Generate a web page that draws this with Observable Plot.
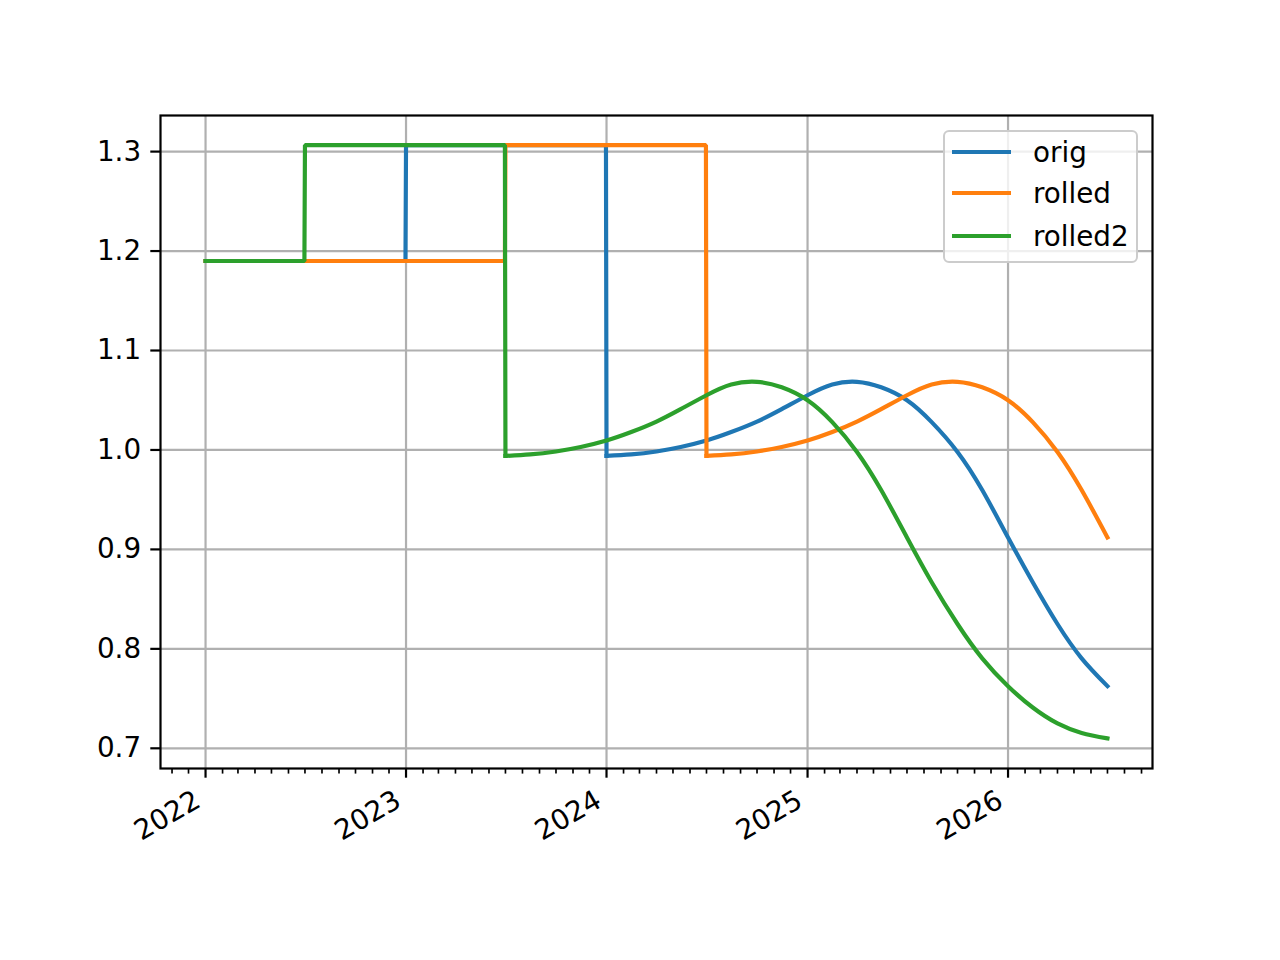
<!DOCTYPE html>
<html>
<head>
<meta charset="utf-8">
<script src="https://cdn.jsdelivr.net/npm/d3@7"></script>
<script src="https://cdn.jsdelivr.net/npm/@observablehq/plot@0.6"></script>
<style>
  body { margin: 0; background: white; }
  #wrap { position: relative; width: 1280px; height: 960px; font-family: "DejaVu Sans", sans-serif; }
  .leg-box { position: absolute; box-sizing: border-box; left: 943px; top: 130px; width: 195px; height: 133px;
    border: 2.2px solid #cccccc; border-radius: 6px; background: rgba(255,255,255,0.8); }
  .leg-line { position: absolute; left: 952px; width: 59px; height: 4.2px; }
  .leg-text { position: absolute; left: 1033px; font-size: 27.8px; line-height: 42px; height: 42px; color: black; white-space: nowrap; }
</style>
</head>
<body>
<div id="wrap"></div>
<script>
// ---- data ----
const seriesNames = ["orig", "rolled", "rolled2"];
const seriesColors = ["#1f77b4", "#ff7f0e", "#2ca02c"];

const origDates = ["2022-01-01","2022-12-31","2023-01-01","2023-12-31","2024-01-01","2024-02-15","2024-04-01","2024-05-15","2024-07-01","2024-08-15","2024-10-01","2024-11-15","2025-01-01","2025-02-15","2025-04-01","2025-05-15","2025-07-01","2025-08-15","2025-10-01","2025-11-15","2026-01-01","2026-02-15","2026-04-01","2026-05-15","2026-07-01"];
const origValues = [1.19,1.19,1.3065,1.3065,0.994,0.9955,0.9985,1.003,1.0095,1.018,1.0285,1.041,1.055,1.0658,1.0685,1.063,1.050,1.028,0.998,0.9597,0.912,0.867,0.825,0.7905,0.7625];

const rolledDates = ["2022-01-01","2023-06-30","2023-07-01","2024-06-30","2024-07-01","2024-08-15","2024-10-01","2024-11-15","2025-01-01","2025-02-15","2025-04-01","2025-05-15","2025-07-01","2025-08-15","2025-10-01","2025-11-15","2026-01-01","2026-02-15","2026-04-01","2026-05-15","2026-07-01"];
const rolledValues = [1.19,1.19,1.3065,1.3065,0.994,0.9955,0.9985,1.003,1.0095,1.018,1.0285,1.041,1.055,1.0658,1.0685,1.063,1.050,1.028,0.998,0.9597,0.912];

const rolled2Dates = ["2022-01-01","2022-06-30","2022-07-01","2023-06-30","2023-07-01","2023-08-15","2023-10-01","2023-11-15","2024-01-01","2024-02-15","2024-04-01","2024-05-15","2024-07-01","2024-08-15","2024-10-01","2024-11-15","2025-01-01","2025-02-15","2025-04-01","2025-05-15","2025-07-01","2025-08-15","2025-10-01","2025-11-15","2026-01-01","2026-02-15","2026-04-01","2026-05-15","2026-07-01"];
const rolled2Values = [1.19,1.19,1.3065,1.3065,0.994,0.9955,0.9985,1.003,1.0095,1.018,1.0285,1.041,1.055,1.0658,1.0685,1.063,1.050,1.028,0.998,0.9597,0.912,0.867,0.825,0.7905,0.7625,0.741,0.725,0.7155,0.7100];

const yearTickLabels = ["2022","2023","2024","2025","2026"];
const yTickValues = [0.7,0.8,0.9,1.0,1.1,1.2,1.3];
const xDomain = ["2021-10-11","2026-09-21"];
const yDomain = [0.6797, 1.3363];

// ---- build ----
const STEP_POINTS = 5; // first points of each series form the step part (up to the curve start)
const toRows = (dates, values) => dates.map((d, i) => ({date: new Date(d + "T00:00:00Z"), value: values[i], i}));
const series = [toRows(origDates, origValues), toRows(rolledDates, rolledValues), toRows(rolled2Dates, rolled2Values)];
const yearTicks = yearTickLabels.map(y => new Date(y + "-01-01T00:00:00Z"));
const xd = xDomain.map(d => new Date(d + "T00:00:00Z"));
const minorTicks = d3.utcMonth.range(xd[0], xd[1]).filter(d => d.getUTCMonth() !== 0);

const lineMarks = series.flatMap((rows, k) => [
  Plot.line(rows.filter(r => r.i < STEP_POINTS), {x: "date", y: "value", stroke: seriesColors[k], strokeWidth: 4.17, strokeLinecap: "square", strokeLinejoin: "miter"}),
  Plot.line(rows.filter(r => r.i >= STEP_POINTS - 1), {x: "date", y: "value", stroke: seriesColors[k], strokeWidth: 4.17, curve: "natural", strokeLinecap: "square", strokeLinejoin: "round"})
]);

const chart = Plot.plot({
  width: 1280, height: 960,
  marginLeft: 160, marginRight: 128, marginTop: 115, marginBottom: 192,
  x: {type: "utc", domain: xd},
  y: {domain: yDomain},
  style: {fontFamily: "DejaVu Sans", fontSize: "27.8px", color: "black", background: "white", overflow: "visible"},
  marks: [
    Plot.gridX(yearTicks, {stroke: "#b0b0b0", strokeOpacity: 1, strokeWidth: 2.2}),
    Plot.gridY(yTickValues, {stroke: "#b0b0b0", strokeOpacity: 1, strokeWidth: 2.2}),
    ...lineMarks,
    Plot.frame({stroke: "black", strokeWidth: 2.2}),
    Plot.axisX({ticks: minorTicks, tickSize: 5.6, strokeWidth: 1.67, fill: "none", label: null, tickFormat: () => ""}),
    Plot.axisX({ticks: yearTicks, tickSize: 9.7, strokeWidth: 2.2, fill: "none", label: null, tickFormat: () => ""}),
    Plot.text(yearTicks, {x: d => d, frameAnchor: "bottom", text: (d, i) => yearTickLabels[i], rotate: -30, textAnchor: "end", lineAnchor: "top", dx: -13, dy: 20, fontSize: 27.8, fill: "black"}),
    Plot.axisY({ticks: yTickValues, tickSize: 9.7, strokeWidth: 2.2, tickPadding: 9.7, tickFormat: d => d.toFixed(1), label: null, fontSize: 27.8})
  ]
});

const wrap = document.getElementById("wrap");
wrap.appendChild(chart);

// legend
const box = document.createElement("div");
box.className = "leg-box";
wrap.appendChild(box);
const rowCenters = [151.7, 193.3, 235.7];
seriesNames.forEach((name, i) => {
  const ln = document.createElement("div");
  ln.className = "leg-line";
  ln.style.background = seriesColors[i];
  ln.style.top = (rowCenters[i] - 2.1) + "px";
  wrap.appendChild(ln);
  const tx = document.createElement("div");
  tx.className = "leg-text";
  tx.style.top = (rowCenters[i] - 20) + "px";
  tx.textContent = name;
  wrap.appendChild(tx);
});
</script>
</body>
</html>
